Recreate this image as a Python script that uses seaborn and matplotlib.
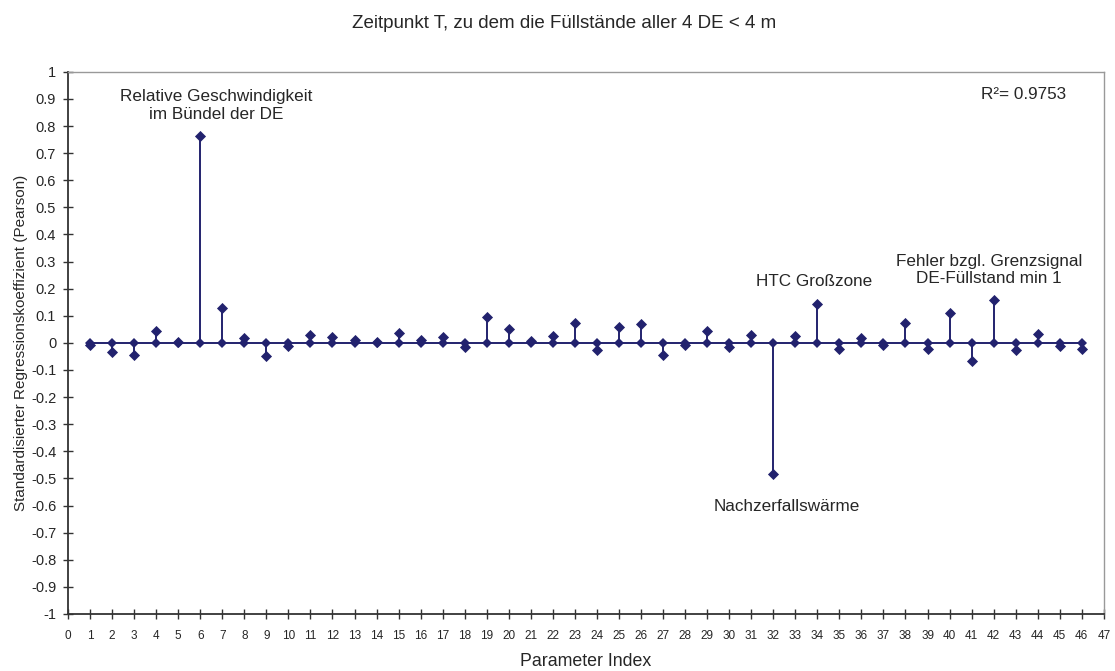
import matplotlib
matplotlib.use("Agg")
import matplotlib.pyplot as plt
import seaborn as sns
import numpy as np
import pandas as pd

# Standardised regression coefficients per parameter
param_index = list(range(1, 47))
coefficients = [
    -0.008, -0.032, -0.044, 0.044, 0.002, 0.762, 0.128, 0.018, -0.050, -0.011,
    0.028, 0.022, 0.011, 0.002, 0.035, 0.011, 0.021, -0.016, 0.097, 0.051,
    0.007, 0.026, 0.074, -0.025, 0.059, 0.070, -0.045, -0.008, 0.044, -0.014,
    0.028, -0.485, 0.026, 0.145, -0.022, 0.018, -0.008, 0.075, -0.023, 0.111,
    -0.067, 0.158, -0.028, 0.034, -0.010, -0.024,
]
r_squared = "0.9753"
x_ticks = list(range(0, 48))
y_ticks = [round(v, 1) for v in np.arange(-1.0, 1.01, 0.1)]

df = pd.DataFrame({"idx": param_index, "coef": coefficients,
                   "zero": [0.0] * len(param_index)})

sns.set_theme(style="white")
plt.rcParams["font.family"] = ["Liberation Sans", "DejaVu Sans"]

navy = "#22226E"
fig = plt.figure(figsize=(11.15, 6.71), dpi=100)
ax = fig.add_axes([0.061, 0.085, 0.929, 0.808])

# baseline series at zero, with markers
sns.lineplot(data=df, x="idx", y="zero", ax=ax, color=navy, lw=1.4,
             marker="D", markersize=5.5, markeredgewidth=0, zorder=3)
# stems from zero to each coefficient
ax.vlines(df["idx"], 0, df["coef"], color=navy, lw=1.4, zorder=2)
sns.scatterplot(data=df, x="idx", y="coef", ax=ax, color=navy, marker="D",
                s=32, linewidth=0, zorder=4)


def fmt(t):
    if abs(t) < 1e-9:
        return "0"
    return f"{t:g}"


ax.set_xlim(0, 47)
ax.set_ylim(-1, 1)
ax.set_xticks(x_ticks)
ax.set_xticklabels([str(t) for t in x_ticks], fontsize=8.5)
ax.set_yticks(y_ticks)
ax.set_yticklabels([fmt(t) for t in y_ticks], fontsize=10.5)
ax.tick_params(axis="both", which="major", direction="inout", length=7,
               width=1.0, color="#333333", pad=4, bottom=True, left=True)
ax.tick_params(axis="x", pad=8)
ax.tick_params(axis="y", pad=5)

for side in ["left", "bottom"]:
    ax.spines[side].set_color("#333333")
    ax.spines[side].set_linewidth(1.3)
for side in ["top", "right"]:
    ax.spines[side].set_color("#999999")
    ax.spines[side].set_linewidth(1.0)
ax.grid(False)

ax.set_xlabel("Parameter Index", fontsize=12.8, labelpad=8)
ax.set_ylabel("Standardisierter Regressionskoeffizient (Pearson)", fontsize=11, labelpad=2)
fig.text(0.506, 0.965, "Zeitpunkt T, zu dem die Füllstände aller 4 DE < 4 m",
         ha="center", va="center", fontsize=13.5)

ann = 12.3
ax.text(6.74, 0.876, "Relative Geschwindigkeit\nim Bündel der DE", ha="center",
        va="center", fontsize=ann, linespacing=1.2)
ax.text(33.85, 0.227, "HTC Großzone", ha="center", va="center", fontsize=ann)
ax.text(41.79, 0.268, "Fehler bzgl. Grenzsignal\nDE-Füllstand min 1", ha="center",
        va="center", fontsize=ann, linespacing=1.2)
ax.text(32.6, -0.603, "Nachzerfallswärme", ha="center", va="center", fontsize=ann)
ax.text(43.37, 0.917, f"R²= {r_squared}", ha="center", va="center", fontsize=ann)

fig.savefig("out.png", dpi=100, facecolor="white")
